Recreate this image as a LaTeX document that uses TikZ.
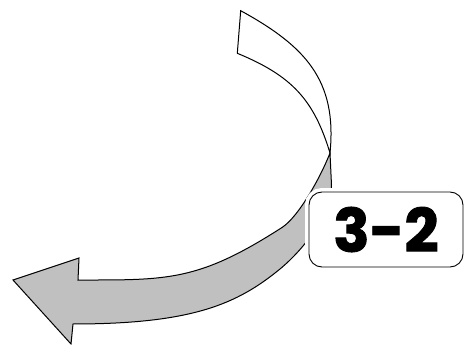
\documentclass[tikz,border=0pt]{standalone}
\usepackage{fontspec}
\newfontfamily\labelfont{Poppins}[BoldFeatures={FakeBold=1.5}]
\definecolor{ribbongray}{RGB}{192,192,192}
\begin{document}
\begin{tikzpicture}[x=1pt,y=-1pt,
  edge/.style={draw=black,line width=1pt,line join=miter},
  tagbox/.style={draw=black,line width=0.9pt,fill=white,rounded corners=13pt,
    minimum width=154pt,minimum height=75pt,inner sep=0pt,
    preaction={draw=white,line width=8pt}}]
\useasboundingbox (0,0) rectangle (464,345);
% key points of the twisted ribbon
\coordinate (A) at (240.7,10.7);   % top outer corner
\coordinate (B) at (237.3,53.3);   % top inner corner
\coordinate (X) at (330,153);      % twist
\coordinate (R) at (331.5,185);
\coordinate (P) at (280,269);
\coordinate (Q) at (282,227.5);
\coordinate (U) at (78,280);       % head base, upper
\coordinate (L) at (73,324);       % head base, lower
\coordinate (H1) at (79,258);      % upper barb
\coordinate (T) at (13,280);       % tip
\coordinate (H2) at (71,344);      % lower barb
% back face (gray) with arrow head
\path[edge,fill=ribbongray]
  (X) -- (R) .. controls (331,215) and (303,250) .. (P)
  .. controls (237.6,303.7) and (193,324) .. (L)
  -- (H2) -- (T) -- (H1) -- (U)
  .. controls (168,280) and (198,281.5) .. (Q)
  .. controls (298.8,216.7) and (321,176.3) .. (X) -- cycle;
% front face (white)
\path[edge,fill=white]
  (A) .. controls (305,46) and (337.3,80) .. (X)
  .. controls (314,100.2) and (292.3,75.9) .. (B) -- cycle;
% label
\node[tagbox] (tag) at (386,229.5) {\labelfont\bfseries\fontsize{60}{60}\selectfont 3-2};
\end{tikzpicture}
\end{document}
